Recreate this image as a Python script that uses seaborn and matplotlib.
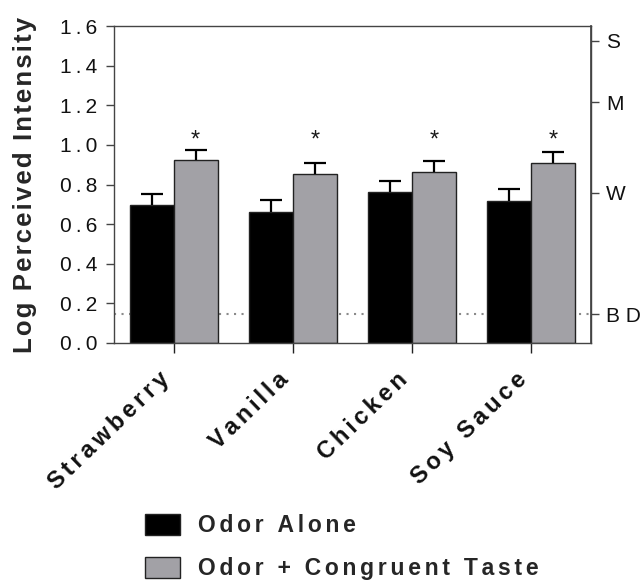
import matplotlib
matplotlib.use("Agg")
import matplotlib.pyplot as plt
from matplotlib.patches import Patch
from matplotlib.transforms import ScaledTranslation
import pandas as pd
import seaborn as sns

# Mean log perceived intensity (gLMS) with upward SEM bars
odors = ["Strawberry", "Vanilla", "Chicken", "Soy Sauce"]
conditions = ["Odor Alone", "Odor + Congruent Taste"]
odor_alone = [0.697, 0.663, 0.761, 0.716]
odor_alone_sem = [0.056, 0.060, 0.056, 0.062]
odor_taste = [0.923, 0.854, 0.864, 0.911]
odor_taste_sem = [0.052, 0.054, 0.057, 0.055]
significant = [True, True, True, True]

# gLMS verbal anchors on the log scale
glms_labels = ["B D", "W", "M", "S"]
glms_levels = [0.144, 0.759, 1.214, 1.525]
detection_level = 0.144
y_ticks = [0.0, 0.2, 0.4, 0.6, 0.8, 1.0, 1.2, 1.4, 1.6]
y_tick_labels = ["0.0", "0.2", "0.4", "0.6", "0.8", "1.0", "1.2", "1.4", "1.6"]

BAR_COLORS = ["#000000", "#a2a1a6"]
THIN = "\u2009"
SIXTH = "\u2006"
HAIR = "\u200a"


def tracked(text, sep=THIN):
    """Letter-spaced version of a label."""
    return sep.join(text)


sns.set_theme(style="ticks")
plt.rcParams["font.family"] = ["Liberation Sans", "DejaVu Sans"]

df = pd.DataFrame({
    "odor": odors * 2,
    "condition": [conditions[0]] * len(odors) + [conditions[1]] * len(odors),
    "value": odor_alone + odor_taste,
    "sem": odor_alone_sem + odor_taste_sem,
})

fig = plt.figure(figsize=(6.43, 5.81), dpi=100)
ax = fig.add_axes([114 / 643, 238 / 581, 477 / 643, 317 / 581])

# detection threshold line, behind the bars
ax.axhline(detection_level, color="#8a8a8a", lw=1.5, ls=(0, (1, 2.6)), zorder=0)

sns.barplot(data=df, x="odor", y="value", hue="condition", order=odors,
            hue_order=conditions, palette=BAR_COLORS, width=0.74,
            errorbar=None, edgecolor="#222222", linewidth=1.0,
            saturation=1, ax=ax, zorder=2)

# upward-only error bars: stem from the bar top plus a single cap
sems = [odor_alone_sem, odor_taste_sem]
for container, err in zip(ax.containers, sems):
    xs = [b.get_x() + b.get_width() / 2 for b in container]
    ys = [b.get_height() for b in container]
    tops = [y + e for y, e in zip(ys, err)]
    ax.vlines(xs, ys, tops, color="black", lw=1.6, zorder=3)
    ax.plot(xs, tops, ls="none", marker="_", markersize=15.8, mew=1.6,
            color="black", zorder=3)

for bar, sig in zip(ax.containers[1], significant):
    if sig:
        ax.text(bar.get_x() + bar.get_width() / 2, 0.99, "*",
                ha="center", va="baseline", fontsize=17, color="#1a1a1a")

ax.legend_.remove()
ax.set_xlim(-0.5, 3.5)
ax.set_ylim(0, 1.6)
ax.set_yticks(y_ticks)
ax.set_yticklabels([tracked(t) for t in y_tick_labels], fontsize=15)
ax.set_xticks(range(len(odors)))
ax.set_xticklabels([tracked(o, SIXTH) for o in odors], fontsize=17,
                   fontweight="bold", rotation=44, ha="right", va="center",
                   rotation_mode="anchor")
ax.set_xlabel("")
ax.set_ylabel(tracked("Log Perceived Intensity", HAIR), fontsize=18.5,
              fontweight="bold", va="center")
ax.yaxis.set_label_coords(-0.186, 0.5)

for side in ["left", "right", "top", "bottom"]:
    ax.spines[side].set_visible(True)
    ax.spines[side].set_color("#444444")
    ax.spines[side].set_linewidth(1.0)

ax.tick_params(axis="y", direction="out", length=6, width=1, color="#444444",
               pad=6, labelcolor="#111111")
ax.tick_params(axis="x", direction="out", length=7, width=1, color="#222222",
               pad=14, labelcolor="#111111")

# nudge the slanted category labels so their ends sit under the ticks
shift = ScaledTranslation(-8 / 100, -4 / 100, fig.dpi_scale_trans)
for tick in ax.xaxis.get_major_ticks():
    tick.label1.set_transform(tick.label1.get_transform() + shift)

sec = ax.secondary_yaxis("right")
sec.set_yticks(glms_levels)
sec.set_yticklabels(glms_labels, fontsize=15)
sec.tick_params(direction="out", length=6, width=1, color="#444444", pad=5,
                labelcolor="#111111")
sec.spines["right"].set_color("#444444")

handles = [Patch(facecolor=c, edgecolor="#222222", linewidth=1.0)
           for c in BAR_COLORS]
fig.legend(handles, [tracked(c, SIXTH) for c in conditions], loc="upper left",
           bbox_to_anchor=(145 / 643, 1 - 514 / 581), frameon=False,
           prop={"size": 16.5, "weight": "bold"}, handlelength=1.53,
           handleheight=1.0, handletextpad=0.78, labelspacing=0.88,
           borderpad=0, borderaxespad=0)

fig.savefig("out.png", dpi=100)
